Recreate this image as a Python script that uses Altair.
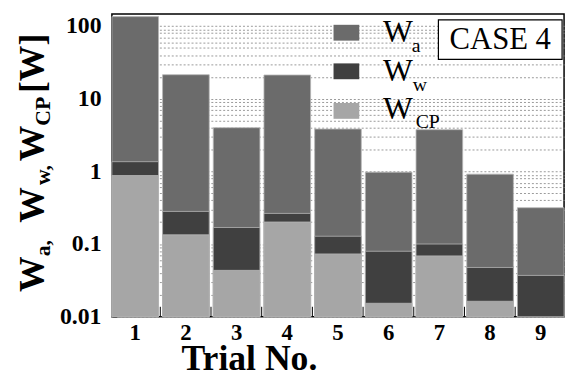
import altair as alt
import pandas as pd

trials = [1, 2, 3, 4, 5, 6, 7, 8, 9]
w_a = [135, 21.4, 3.99, 21.2, 3.82, 0.975, 3.75, 0.916, 0.316]
w_w = [1.36, 0.281, 0.169, 0.264, 0.128, 0.0795, 0.100, 0.0476, 0.037]
w_cp = [0.877, 0.134, 0.0434, 0.201, 0.0731, 0.0153, 0.0687, 0.0163, None]
series = ["W_a", "W_w", "W_CP"]
colors = ["#6b6b6b", "#404040", "#a6a6a6"]

rows = []
for name, vals in zip(series, [w_a, w_w, w_cp]):
    for t, v in zip(trials, vals):
        if v is not None:
            rows.append({"trial": t, "series": name, "value": v})
df = pd.DataFrame(rows)

W, H = 457, 306
YMIN, YMAX = 0.01, 147
tick_vals = [m * 10.0 ** e for e in range(-2, 3) for m in range(1, 10) if m * 10.0 ** e <= YMAX]
SERIF = "Liberation Serif, Times New Roman, serif"

bars = alt.Chart(df).mark_bar(stroke="#b5b5b5", strokeWidth=0.8).encode(
    x=alt.X("trial:O",
            scale=alt.Scale(paddingInner=0.08, paddingOuter=0),
            axis=alt.Axis(title="", labelAngle=0, ticks=False, domain=False,
                          labelFont=SERIF, labelFontSize=23, labelFontWeight="bold",
                          labelPadding=5, labelColor="black", grid=False)),
    y=alt.Y("value:Q", stack=None,
            scale=alt.Scale(type="log", domain=[YMIN, YMAX], nice=False),
            axis=alt.Axis(title="", values=tick_vals,
                          labelExpr="(datum.value==0.01||datum.value==0.1||datum.value==1||datum.value==10||datum.value==100) ? format(datum.value,'~g') : ''",
                          offset=-5, tickSize=5, tickColor="black", domain=False,
                          labelFont=SERIF, labelFontSize=24, labelFontWeight="bold",
                          labelPadding=11, labelColor="black",
                          grid=True, gridColor="#9a9a9a", gridDash=[2, 2], gridWidth=1)),
    y2=alt.datum(YMIN),
    color=alt.Color("series:N", scale=alt.Scale(domain=series, range=colors), legend=None),
)

rules = alt.Chart(pd.DataFrame({"trial": trials[1:]})).mark_rule(
    color="black", strokeWidth=1, xOffset=-2.3).encode(
    x=alt.X("trial:O", bandPosition=0),
    y=alt.value(H - 10), y2=alt.value(H),
)

one = pd.DataFrame({"k": [0]})


def rect(x, x2, y, y2, fill, stroke=None):
    kw = {"fill": fill}
    if stroke:
        kw.update(stroke=stroke, strokeWidth=1.2)
    return alt.Chart(one).mark_rect(**kw).encode(
        x=alt.value(x), x2=alt.value(x2), y=alt.value(y), y2=alt.value(y2))


def txt(s, x, y, size, weight="normal", angle=None, align="left"):
    kw = dict(text=s, font=SERIF, fontSize=size, fontWeight=weight, align=align,
              baseline="alphabetic", color="black")
    if angle is not None:
        kw["angle"] = angle
    return alt.Chart(one).mark_text(**kw).encode(x=alt.value(x), y=alt.value(y))


decor = [
    # legend
    rect(224, 250, 11, 27, colors[0]),
    rect(224, 250, 50, 66, colors[1]),
    rect(224, 250, 90, 106, colors[2]),
    txt("W", 274, 28, 32), txt("a", 303, 38, 20),
    txt("W", 274, 68, 32), txt("w", 304, 78, 20),
    txt("W", 274, 106, 32), txt("CP", 307, 115, 20),
    # case box
    rect(330, 455, 6, 46, "white", stroke="black"),
    txt("CASE 4", 392.5, 35, 31, align="center"),
    # x title
    txt("Trial No.", 139, 360, 36, weight="bold", align="center"),
    # y title (rotated)
    txt("W", -69, 281, 36, "bold", 270),
    txt("a,", -63, 245, 22, "bold", 270),
    txt("W", -69, 211, 36, "bold", 270),
    txt("w,", -63, 173, 22, "bold", 270),
    txt("W", -69, 149, 36, "bold", 270),
    txt("CP", -63, 113, 22, "bold", 270),
    txt("[W]", -69, 80, 36, "bold", 270),
]

chart = alt.layer(bars, rules, *decor).properties(
    width=W, height=H,
    padding={"left": 105, "top": 4, "right": 6, "bottom": 62},
    autosize=alt.AutoSizeParams(type="none"),
).configure_view(stroke="black", strokeWidth=1.5)

chart.save("out.html", embed_options={"renderer": "svg", "actions": False})
